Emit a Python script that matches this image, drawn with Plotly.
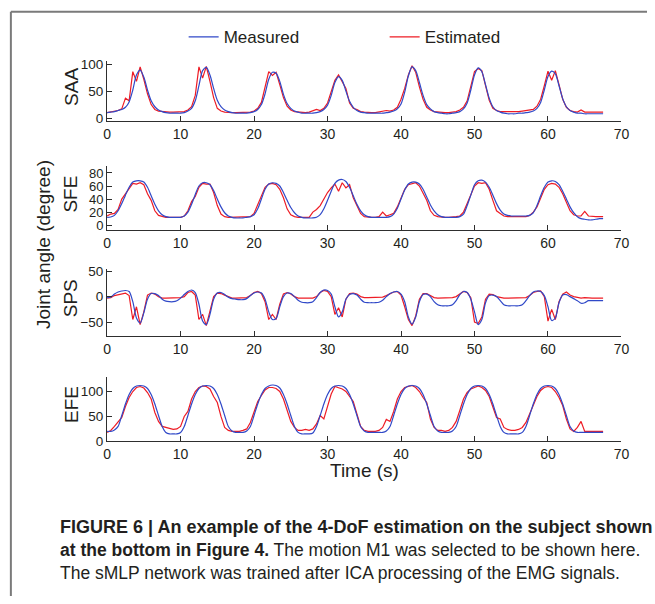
import numpy as np
import plotly.graph_objects as go

# ---------------- data (sampled every 0.5 s, 0 .. 67.5 s) ----------------
TIME_S = np.arange(0, 68, 0.5)

SAA_MEASURED = [
    10, 11, 12, 14, 16, 20, 30, 52, 80, 89, 76, 52, 32, 21, 15, 12, 10, 9, 9, 9,
    9, 10, 13, 18, 32, 60, 88, 94, 80, 55, 33, 21, 15, 12, 10, 9, 9, 9, 9, 10,
    12, 16, 25, 45, 72, 85, 83, 68, 44, 27, 18, 13, 11, 9, 9, 9, 9, 10, 12, 16,
    24, 42, 66, 77, 70, 50, 31, 20, 14, 11, 10, 9, 9, 9, 9, 9, 10, 11, 13, 17,
    26, 48, 78, 95, 88, 66, 42, 25, 17, 12, 10, 9, 8, 8, 9, 10, 12, 17, 28, 52,
    80, 93, 86, 62, 37, 21, 14, 11, 9, 8, 8, 8, 9, 9, 10, 11, 13, 18, 29, 52,
    77, 87, 82, 60, 36, 21, 14, 11, 9, 9, 8, 8, 8, 8, 8, 8,
]
SAA_ESTIMATED = [
    10, 11, 13, 14, 17, 37, 32, 86, 68, 95, 72, 45, 25, 16, 13, 12, 11, 11, 11, 11,
    11, 12, 15, 21, 42, 95, 74, 96, 68, 38, 18, 13, 11, 10, 10, 10, 10, 10, 10, 11,
    13, 18, 29, 56, 86, 79, 85, 62, 38, 22, 15, 12, 11, 10, 10, 11, 13, 16, 14, 18,
    28, 50, 70, 80, 66, 55, 28, 18, 16, 12, 11, 10, 10, 10, 11, 12, 14, 13, 15, 20,
    35, 55, 80, 97, 85, 58, 35, 20, 15, 12, 11, 10, 10, 10, 11, 12, 15, 20, 32, 58,
    86, 92, 88, 60, 33, 18, 14, 12, 12, 11, 11, 11, 12, 13, 14, 15, 16, 22, 35, 60,
    87, 70, 88, 62, 35, 20, 14, 12, 11, 15, 11, 11, 11, 11, 11, 11,
]

SFE_MEASURED = [
    12, 12.5, 15, 22, 33, 46, 58, 66, 68, 68, 66, 58, 45, 32, 22, 16, 13, 12, 12, 12,
    12, 14, 20, 32, 47, 60, 65, 65, 62, 53, 40, 28, 19, 14, 12, 11, 11, 11, 12, 13,
    16, 25, 40, 55, 63, 65, 64, 60, 50, 38, 27, 19, 14, 12, 11, 11, 11, 12, 16, 25,
    38, 52, 64, 69, 70, 67, 58, 45, 32, 22, 16, 13, 12, 12, 12, 12, 12, 13, 17, 26,
    40, 54, 63, 66, 66, 63, 55, 43, 31, 22, 16, 13, 12, 12, 12, 12, 13, 17, 30, 46,
    62, 68, 69, 66, 58, 46, 33, 23, 17, 15, 14, 14, 14, 14, 14, 15, 19, 30, 45, 58,
    66, 68, 67, 62, 52, 40, 28, 19, 13, 10, 9, 8, 8, 9, 10, 10,
]
SFE_ESTIMATED = [
    14, 17, 18, 24, 40, 48, 56, 64, 63, 65, 62, 48, 38, 22, 15, 13, 12, 12, 12, 12,
    12, 14, 22, 36, 44, 58, 64, 63, 63, 50, 30, 17, 13, 12, 12, 12, 12, 12, 12, 13,
    18, 32, 45, 58, 63, 64, 62, 55, 42, 25, 16, 13, 12, 12, 12, 12, 20, 24, 30, 40,
    50, 57, 63, 52, 65, 57, 62, 42, 30, 18, 13, 12, 12, 12, 13, 20, 14, 16, 18, 28,
    42, 55, 62, 64, 65, 60, 50, 38, 22, 15, 13, 12, 12, 12, 12, 13, 14, 20, 33, 48,
    60, 65, 64, 65, 55, 38, 22, 18, 14, 13, 13, 13, 13, 13, 13, 15, 20, 28, 42, 55,
    62, 64, 63, 58, 48, 35, 22, 16, 14, 14, 21, 14, 13, 13, 13, 13,
]

SPS_MEASURED = [
    -2, -1, 5, 9, 11, 12, 10, -10, -42, -52, -32, -5, 6, 6, 2, -5, -9, -10, -10, -8,
    -3, 4, 10, 13, 8, -15, -48, -55, -35, -5, 7, 8, 4, -1, -4, -5, -6, -6, -4, 2,
    7, 9, 7, -5, -30, -45, -43, -20, 0, 7, 6, 0, -7, -11, -12, -12, -10, -2, 8, 13,
    12, 5, -20, -40, -30, -5, 4, 6, 3, -5, -11, -12, -12, -12, -11, -7, 0, 6, 9, 10,
    5, -10, -40, -54, -40, -10, 4, 5, 0, -10, -16, -18, -18, -18, -16, -8, 4, 10, 8, -5,
    -30, -55, -45, -12, 2, 3, 0, -8, -16, -18, -18, -18, -18, -16, -8, 2, 9, 11, 10, 2,
    -20, -47, -42, -12, 3, 4, 0, -4, -8, -13, -12, -8, -8, -8, -8, -8,
]
SPS_ESTIMATED = [
    -3, -2, 2, 4, 5, 7, 2, -45, -20, -55, -30, 3, 7, 5, 0, -3, -3, -3, -3, -2,
    -2, 0, 8, 10, 3, -45, -35, -57, -30, 0, 7, 6, 3, 0, -3, -3, -3, -3, -2, 2,
    8, 10, 6, -10, -45, -35, -45, -15, 5, 8, 5, 0, -3, -3, -3, -3, -3, 0, 8, 12,
    10, 0, -35, -22, -40, -5, 6, 7, 5, 0, -2, -2, -2, -2, -2, -1, 2, 6, 9, 10,
    3, -20, -45, -57, -38, -5, 6, 6, 2, -2, -3, -3, -3, -3, -2, 0, 5, 10, 8, -2,
    -50, -53, -40, -5, 5, 4, 0, -2, -3, -3, -3, -3, -3, -3, -2, 2, 8, 10, 11, 0,
    -48, -25, -45, -10, 5, 9, 3, 0, -2, -3, -2, -3, -3, -3, -3, -3,
]

EFE_MEASURED = [
    20, 20, 23, 30, 52, 75, 94, 106, 111, 112, 111, 106, 94, 75, 52, 30, 18, 15, 15, 15,
    18, 30, 52, 75, 94, 106, 111, 112, 111, 106, 94, 75, 52, 30, 21, 18, 18, 18, 21, 30,
    52, 75, 94, 106, 111, 113, 112, 107, 94, 75, 52, 30, 18, 15, 15, 15, 17, 30, 52, 75,
    94, 106, 111, 112, 111, 106, 94, 75, 52, 30, 21, 18, 18, 18, 18, 18, 21, 30, 52, 75,
    94, 106, 111, 112, 111, 106, 94, 75, 52, 30, 21, 18, 18, 18, 21, 30, 52, 75, 94, 106,
    111, 112, 111, 106, 94, 75, 52, 30, 18, 15, 15, 15, 15, 18, 30, 52, 75, 94, 106, 111,
    112, 111, 106, 94, 75, 52, 30, 21, 18, 18, 18, 18, 18, 18, 18, 18,
]
EFE_ESTIMATED = [
    18, 22, 30, 38, 48, 70, 88, 100, 108, 110, 107, 98, 85, 58, 40, 30, 28, 25, 24, 25,
    30, 50, 60, 85, 100, 108, 111, 110, 105, 90, 78, 50, 28, 22, 20, 20, 20, 22, 25, 38,
    60, 80, 92, 103, 108, 108, 106, 100, 85, 60, 40, 28, 22, 22, 24, 22, 25, 35, 52, 45,
    70, 95, 110, 108, 105, 100, 90, 80, 55, 30, 22, 20, 20, 20, 22, 28, 44, 40, 60, 85,
    100, 108, 110, 112, 108, 100, 88, 78, 45, 28, 22, 22, 20, 22, 28, 40, 62, 85, 98, 105,
    108, 111, 108, 102, 90, 70, 48, 45, 28, 24, 22, 22, 24, 28, 38, 55, 72, 90, 102, 108,
    110, 108, 100, 88, 72, 45, 25, 20, 28, 40, 20, 20, 20, 20, 20, 20,
]

PANEL_LABELS = ["SAA", "SFE", "SPS", "EFE"]
X_TICKS = [0, 10, 20, 30, 40, 50, 60, 70]
Y_TICKS = [[0, 50, 100], [0, 20, 40, 60, 80], [-50, 0, 50], [0, 50, 100]]
Y_RANGES = [[-5, 105], [-8, 90], [-78, 55], [0, 130]]

# ---------------- layout helpers ----------------
W, H = 655, 604
FONT = "Liberation Sans, Arial, Helvetica, sans-serif"
TEXT = "#231f20"
AXIS = "#2e2e2e"
BLUE = "#3049c8"
RED = "#ee1c25"
FRAME = "#7a7a7a"


def px(x):
    return x / W


def py(y):
    return 1 - y / H


X_DOMAIN = [px(105), px(629)]
# pixel top / bottom of each panel, label centre
PANEL_BOX = [(57.7, 118.3, 84), (165.0, 230.3, 193), (269.4, 338.6, 300), (379.7, 446.0, 408)]
Y_TICK_SIZE = [13.5, 13, 13.5, 13.5]

series = [
    (SAA_MEASURED, SAA_ESTIMATED),
    (SFE_MEASURED, SFE_ESTIMATED),
    (SPS_MEASURED, SPS_ESTIMATED),
    (EFE_MEASURED, EFE_ESTIMATED),
]

fig = go.Figure()
layout = dict(
    width=W, height=H, margin=dict(l=0, r=0, t=0, b=0),
    paper_bgcolor="white", plot_bgcolor="white",
    font=dict(family=FONT, color=TEXT, size=14),
    showlegend=True,
)

annotations = []
for i, (meas, est) in enumerate(series):
    n = i + 1
    xa = "x" if n == 1 else f"x{n}"
    ya = "y" if n == 1 else f"y{n}"
    fig.add_trace(go.Scatter(
        x=TIME_S, y=est, mode="lines", name="Estimated",
        line=dict(color=RED, width=1.2), xaxis=xa, yaxis=ya,
        showlegend=(n == 1), legendrank=2, hoverinfo="skip"))
    fig.add_trace(go.Scatter(
        x=TIME_S, y=meas, mode="lines", name="Measured",
        line=dict(color=BLUE, width=1.2, shape="spline", smoothing=0.8),
        xaxis=xa, yaxis=ya, showlegend=(n == 1), legendrank=1, hoverinfo="skip"))

    top, bottom, lab_y = PANEL_BOX[i]
    key = "" if n == 1 else str(n)
    layout["xaxis" + key] = dict(
        domain=X_DOMAIN, range=[0, 70], tickvals=X_TICKS, ticks="inside",
        ticklen=5, tickwidth=1, tickcolor=AXIS, showline=True, linecolor=AXIS,
        linewidth=1, showgrid=False, zeroline=False, anchor=ya,
        tickfont=dict(size=14, color=TEXT, family=FONT), fixedrange=True)
    layout["yaxis" + key] = dict(
        domain=[py(bottom), py(top)], range=Y_RANGES[i], tickvals=Y_TICKS[i],
        ticks="inside", ticklen=5, tickwidth=1, tickcolor=AXIS, showline=True,
        linecolor=AXIS, linewidth=1, showgrid=False, zeroline=False, anchor=xa,
        tickfont=dict(size=Y_TICK_SIZE[i], color=TEXT, family=FONT), fixedrange=True)
    annotations.append(dict(
        text=PANEL_LABELS[i], x=px(68), y=py(lab_y), xref="paper", yref="paper",
        textangle=-90, showarrow=False, xanchor="center", yanchor="middle",
        font=dict(size=19, color=TEXT, family=FONT)))

annotations.append(dict(
    text="Joint angle (degree)", x=px(40), y=py(245), xref="paper", yref="paper",
    textangle=-90, showarrow=False, xanchor="center", yanchor="middle",
    font=dict(size=19, color=TEXT, family=FONT)))
annotations.append(dict(
    text="Time (s)", x=px(367), y=py(476), xref="paper", yref="paper",
    showarrow=False, xanchor="center", yanchor="middle",
    font=dict(size=19, color=TEXT, family=FONT)))

CAPTION = [
    "<b>FIGURE 6 | An example of the 4-DoF estimation on the subject shown</b>",
    "<b>at the bottom in Figure 4.</b> The motion M1 was selected to be shown here.",
    "The sMLP network was trained after ICA processing of the EMG signals.",
]
CAPTION_SIZE = [18, 17.5, 17.5]
for line, yy, fs in zip(CAPTION, [533, 557, 580], CAPTION_SIZE):
    annotations.append(dict(
        text=line, x=px(55), y=py(yy), xref="paper", yref="paper",
        showarrow=False, xanchor="left", yanchor="middle",
        font=dict(size=fs, color=TEXT, family=FONT)))

layout["annotations"] = annotations
layout["shapes"] = [
    dict(type="line", xref="paper", yref="paper", x0=px(7), y0=py(7), x1=px(655), y1=py(7),
         line=dict(color=FRAME, width=2)),
    dict(type="line", xref="paper", yref="paper", x0=px(7), y0=py(7), x1=px(7), y1=py(604),
         line=dict(color=FRAME, width=2)),
]
layout["legend"] = dict(
    orientation="h", x=px(183), y=py(33), xanchor="left", yanchor="middle",
    font=dict(size=17, color=TEXT, family=FONT), bgcolor="rgba(0,0,0,0)",
    itemwidth=30, entrywidth=156, entrywidthmode="pixels", traceorder="normal")

fig.update_layout(**layout)
fig.write_html(
    "out.html",
    config={"displayModeBar": False},
    post_script=(
        "document.documentElement.style.overflow='hidden';"
        "document.body.style.margin='0';"
        "document.body.style.overflow='hidden';"
        "var gd=document.getElementById('{plot_id}');"
        "gd.style.position='fixed';gd.style.left='0px';gd.style.top='0px';"
    ),
)
